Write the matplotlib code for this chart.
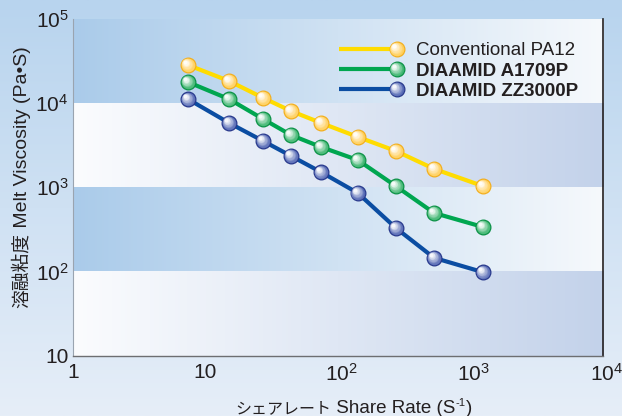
import numpy as np
import matplotlib
matplotlib.use('Agg')
import matplotlib.pyplot as plt
from matplotlib.lines import Line2D
from matplotlib.legend_handler import HandlerBase
from matplotlib.transforms import offset_copy, ScaledTranslation

# data
shear_rate = [7.4, 15.1, 27.2, 44.2, 74.5, 141, 273, 530, 1240]
pa12 = [28200, 18200, 11500, 8030, 5790, 3950, 2690, 1650, 1030]
a1709p = [17700, 11100, 6450, 4160, 3000, 2100, 1030, 494, 337]
zz3000p = [11100, 5790, 3540, 2350, 1510, 853, 328, 145, 98]

series_names = ['Conventional PA12', 'DIAAMID A1709P', 'DIAAMID ZZ3000P']
x_ticks = [1, 10, 100, 1000, 10000]
x_ticklabels = ['1', '10', r'10$^{2}$', r'10$^{3}$', r'10$^{4}$']
y_ticks = [10, 100, 1000, 10000, 100000]
y_ticklabels = ['10', r'10$^{2}$', r'10$^{3}$', r'10$^{4}$', r'10$^{5}$']

plt.rcParams['font.family'] = ['Liberation Sans', 'Noto Sans CJK JP']
plt.rcParams['mathtext.fontset'] = 'custom'
plt.rcParams['mathtext.rm'] = 'Liberation Sans'
plt.rcParams['mathtext.it'] = 'Liberation Sans:italic'
plt.rcParams['mathtext.bf'] = 'Liberation Sans:bold'

TXT = '#231f20'
MS = 11.5  # marker diameter in points
W, H = 622, 416

# line colour, sphere edge, sphere body
styles = {
    'Conventional PA12': ('#ffdc00', '#f2ad1c', '#ffcf5a'),
    'DIAAMID A1709P': ('#00a650', '#0a8f45', '#3db56f'),
    'DIAAMID ZZ3000P': ('#0b4da2', '#27378a', '#5468b4'),
}


def hex_rgb(h):
    h = h.lstrip('#')
    return np.array([int(h[i:i + 2], 16) for i in (0, 2, 4)]) / 255.0


def sphere_layers(edge, body, n=9):
    # list of (size fraction, colour, offset in points) for a shaded ball
    layers = [(1.0, hex_rgb(edge), 0.0), (0.86, hex_rgb(body), 0.0)]
    base = hex_rgb(body)
    white = np.array([1.0, 1.0, 1.0])
    for k in range(1, n + 1):
        t = k / n
        frac = 0.86 - 0.62 * t
        col = base * (1 - t * 0.95) + white * t * 0.95
        off = 2.0 * t
        layers.append((frac, col, off))
    return layers


class SphereHandler(HandlerBase):
    def create_artists(self, legend, orig_handle, xdescent, ydescent,
                       width, height, fontsize, trans):
        y = height / 2 - ydescent
        x1 = width - xdescent
        lc, ec, bc = styles[orig_handle.get_label()]
        arts = [Line2D([-xdescent, x1], [y, y], color=lc, lw=3,
                       solid_capstyle='butt')]
        for frac, col, off in sphere_layers(ec, bc):
            arts.append(Line2D([x1 - off], [y + off], marker='o', ls='none',
                               ms=MS * frac, mfc=col, mec='none'))
        for a in arts:
            a.set_transform(trans)
        return arts


def px(x, y):
    # pixel position from top-left -> figure fraction
    return x / W, 1 - y / H


fig = plt.figure(figsize=(W / 100, H / 100), dpi=100)

# figure background gradient
bg = fig.add_axes([0, 0, 1, 1], zorder=-10)
top = hex_rgb('#b8d4ee')
bot = hex_rgb('#e6eef8')
tt = np.linspace(0, 1, 200)[:, None]
bg.imshow((top * (1 - tt) + bot * tt)[:, None, :], aspect='auto',
          extent=[0, 1, 0, 1])
bg.set_axis_off()

pos = [72.7 / W, 60.3 / H, 530.6 / W, 337 / H]
ax = fig.add_axes(pos, zorder=2)
ax.set_xscale('log')
ax.set_yscale('log')
ax.set_xlim(1, 1e4)
ax.set_ylim(10, 1e5)
ax.set_facecolor('none')

# decade bands behind the plot
band_ax = fig.add_axes(pos, zorder=1)
band_ax.set_xlim(0, 1)
band_ax.set_ylim(0, 1)
band_ax.set_axis_off()
blue_l, white_r = hex_rgb('#aacbea'), hex_rgb('#f6f9fc')
white_l, grey_r = hex_rgb('#fbfcfe'), hex_rgb('#c3d2ea')
gx = np.linspace(0, 1, 256)[None, :, None]
ly0, ly1 = np.log10(ax.get_ylim())
for i, (lo, hi) in enumerate(zip(y_ticks[:-1], y_ticks[1:])):
    f0 = (np.log10(lo) - ly0) / (ly1 - ly0)
    f1 = (np.log10(hi) - ly0) / (ly1 - ly0)
    if i % 2 == 1:
        img = blue_l * (1 - gx) + white_r * gx
    else:
        img = white_l * (1 - gx) + grey_r * gx
    band_ax.imshow(img, aspect='auto', extent=[0, 1, f0, f1])

handles = []
for name, vals in zip(series_names, [pa12, a1709p, zz3000p]):
    lc, ec, bc = styles[name]
    ln, = ax.plot(shear_rate, vals, color=lc, lw=3, label=name, zorder=3)
    handles.append(ln)
    for frac, col, off in sphere_layers(ec, bc):
        tr = offset_copy(ax.transData, fig=fig, x=-off, y=off, units='points')
        ax.plot(shear_rate, vals, 'o', ms=MS * frac, mfc=col, mec='none',
                transform=tr, zorder=4, clip_on=False)

ax.set_xticks(x_ticks)
ax.set_xticklabels(x_ticklabels)
ax.set_yticks(y_ticks)
ax.set_yticklabels(y_ticklabels)
ax.minorticks_off()
ax.tick_params(length=0, labelsize=15, colors=TXT)
ax.tick_params(axis='x', pad=5)
ax.tick_params(axis='y', pad=3)
# digits of 10^n sit centred on the tick, superscript hangs to the right
for lab in ax.get_xticklabels():
    if '$' in lab.get_text():
        lab.set_transform(lab.get_transform() +
                          ScaledTranslation(3 / 100, 0, fig.dpi_scale_trans))

ax.spines['top'].set_visible(False)
ax.spines['left'].set_color('#9aa4b0')
ax.spines['left'].set_linewidth(0.8)
ax.spines['bottom'].set_color('#6d6e71')
ax.spines['bottom'].set_linewidth(1.0)
ax.spines['right'].set_color('#231f20')
ax.spines['right'].set_linewidth(1.2)

leg = ax.legend(handles=handles, loc='upper left',
                bbox_to_anchor=(0.502, 0.93), frameon=False,
                handler_map={Line2D: SphereHandler()},
                handlelength=3.07, handletextpad=1.06, labelspacing=0.16,
                borderpad=0, borderaxespad=0, fontsize=13.5)
for i, t in enumerate(leg.get_texts()):
    t.set_color(TXT)
    if i > 0:
        t.set_fontweight('bold')

# axis titles built from pieces: CJK and Latin parts differ in size
renderer = fig.canvas.get_renderer()

# x title, baseline at y=413px
t1 = fig.text(*px(235, 413), 'シェアレート', fontsize=11.5, color=TXT,
              va='baseline', ha='left')
x_end = t1.get_window_extent(renderer).x1
t2 = fig.text(x_end / W, 1 - 413 / H, ' Share Rate (S', fontsize=13.5,
              color=TXT, va='baseline', ha='left')
x_end = t2.get_window_extent(renderer).x1
t3 = fig.text((x_end + 0.5) / W, 1 - 406 / H, '-1', fontsize=8, color=TXT,
              va='baseline', ha='left')
x_end = t3.get_window_extent(renderer).x1
fig.text((x_end + 0.5) / W, 1 - 413 / H, ')', fontsize=13.5, color=TXT,
         va='baseline', ha='left')

# y title, rotated, baseline at x=27px, starting at y=308px
s1 = fig.text(*px(27, 308), '溶融粘度', fontsize=13.5, color=TXT,
              rotation=90, rotation_mode='anchor', ha='left', va='baseline')
y_end = s1.get_window_extent(renderer).y1
fig.text(27 / W, y_end / H, ' Melt Viscosity (Pa•S)', fontsize=14,
         color=TXT, rotation=90, rotation_mode='anchor', ha='left',
         va='baseline')

fig.savefig('out.png', dpi=100)
